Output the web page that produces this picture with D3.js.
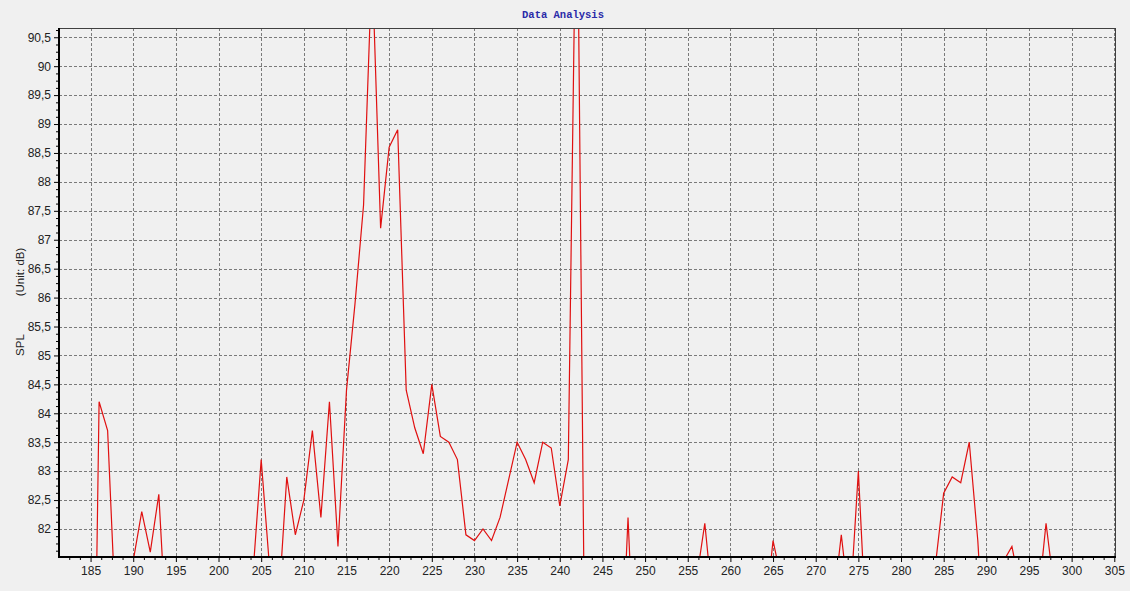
<!DOCTYPE html>
<html>
<head>
<meta charset="utf-8">
<script src="https://d3js.org/d3.v7.min.js"></script>
<style>
  body { margin:0; background:#f0f0f0; }
  svg { display:block; }
</style>
</head>
<body>
<svg id="chart" width="1130" height="591"></svg>
<script>
// frequency steps on the x axis
var freqs = d3.range(182, 305);
// SPL readings, one per step (values under the floor are cut off by the plot)
var spl = [
  79.0, 78.5, 77.0, 74.0, 84.2, 83.7, 80.3, 79.5,          // 182-189
  81.45, 82.3, 81.6, 82.6, 79.9, 79.5, 79.0, 78.5, 79.0, 79.5, // 190-199
  79.0, 78.5, 79.0, 79.5, 81.15, 83.2, 81.3, 80.6, 82.9, 81.9, // 200-209
  82.5, 83.7, 82.2, 84.2, 81.7, 84.4, 85.9, 87.6, 91.8, 87.2,  // 210-219
  88.6, 88.9, 84.4, 83.75, 83.3, 84.5, 83.6, 83.5, 83.2, 81.9, // 220-229
  81.8, 82.0, 81.8, 82.2, 82.85, 83.5, 83.2, 82.8, 83.5, 83.4, // 230-239
  82.4, 83.2, 94.1, 78.5, 79.0, 79.5, 79.0, 78.8, 82.2, 78.8,  // 240-249
  79.5, 80.0, 79.5, 79.0, 79.5, 80.0, 81.1, 82.1, 80.6, 80.0,  // 250-259
  79.5, 79.0, 79.5, 80.0, 80.4, 81.8, 81.1, 80.5, 80.0, 79.5,  // 260-269
  79.0, 79.5, 80.6, 81.9, 80.6, 83.0, 80.0, 79.5, 79.0, 79.5,  // 270-279
  79.0, 79.5, 80.0, 80.5, 81.33, 82.62, 82.9, 82.8, 83.5, 81.8, // 280-289
  79.3, 80.0, 81.44, 81.7, 80.95, 80.0, 80.65, 82.1, 80.9, 80.0, // 290-299
  79.5, 79.0, 79.5, 79.0, 79.5                                 // 300-304
];
var xTicks = d3.range(185, 306, 5);
var yTicks = d3.range(82, 90.51, 0.5);
var xDomain = [181.3, 305.2];
var yDomain = [81.516, 90.66];

var plot = {x:59, y:28, width:1057, height:529};

var svg = d3.select("#chart");

svg.append("rect")
  .attr("width",1130).attr("height",591)
  .style("fill","#f0f0f0");

var x = d3.scaleLinear()
  .domain(xDomain)
  .range([plot.x, plot.x+plot.width]);

var y = d3.scaleLinear()
  .domain(yDomain)
  .range([plot.y+plot.height, plot.y]);

var commaFmt = function(d){ return d3.format("~g")(d).replace(".",","); };

// grid
var grid = svg.append("g").attr("class","grid");
grid.selectAll("line.gx")
  .data(xTicks)
  .enter()
  .append("line")
  .attr("class","gx")
  .attr("x1",function(d){return Math.round(x(d))+0.5})
  .attr("x2",function(d){return Math.round(x(d))+0.5})
  .attr("y1",plot.y)
  .attr("y2",plot.y+plot.height)
  .style("stroke","#7a7a7a")
  .style("stroke-dasharray","3,2");
grid.selectAll("line.gy")
  .data(yTicks)
  .enter()
  .append("line")
  .attr("class","gy")
  .attr("y1",function(d){return Math.round(y(d))+0.5})
  .attr("y2",function(d){return Math.round(y(d))+0.5})
  .attr("x1",plot.x)
  .attr("x2",plot.x+plot.width)
  .style("stroke","#7a7a7a")
  .style("stroke-dasharray","3,2");

// data line, clipped to the plot box
svg.append("clipPath")
  .attr("id","clip")
  .append("rect")
  .attr("x",plot.x).attr("y",plot.y)
  .attr("width",plot.width).attr("height",plot.height);

var line = d3.line()
  .x(function(d,i){return x(freqs[i])})
  .y(function(d){return y(d)});

svg.append("path")
  .datum(spl)
  .attr("clip-path","url(#clip)")
  .attr("d",line)
  .style("fill","none")
  .style("stroke","#e01010")
  .style("stroke-width",1.2);

// frame: thin top/right, heavy left/bottom
svg.append("rect")
  .attr("x",plot.x+0.5).attr("y",plot.y+0.5)
  .attr("width",plot.width-1).attr("height",plot.height)
  .style("fill","none")
  .style("stroke","#404040")
  .style("stroke-width",1);

// axes
var xAxis = d3.axisBottom(x)
  .tickValues(xTicks)
  .tickSize(5)
  .tickPadding(4)
  .tickFormat(d3.format("d"));
var xMinor = d3.axisBottom(x)
  .tickValues(d3.range(182.5, 305.1, 1.25).filter(function(d){return d % 5 != 0}))
  .tickSize(3)
  .tickFormat("");

var yAxis = d3.axisLeft(y)
  .tickValues(yTicks)
  .tickSize(5)
  .tickPadding(3)
  .tickFormat(commaFmt);
var yMinor = d3.axisLeft(y)
  .tickValues(d3.range(81.625, 90.66, 0.125).filter(function(d){return Math.abs(d*2 - Math.round(d*2)) > 0.01}))
  .tickSize(3)
  .tickFormat("");

function styleAxis(g){
  g.select(".domain").remove();
  g.selectAll("line").style("stroke","#000");
  g.selectAll("text")
    .style("font-family","'Liberation Sans', Arial, sans-serif")
    .style("font-size","12px")
    .style("fill","#222");
}

svg.append("g")
  .attr("transform","translate(0,"+(plot.y+plot.height)+")")
  .call(xAxis).call(styleAxis);
svg.append("g")
  .attr("transform","translate(0,"+(plot.y+plot.height)+")")
  .call(xMinor).call(styleAxis);
svg.append("g")
  .attr("transform","translate("+plot.x+",0)")
  .call(yAxis).call(styleAxis);
svg.append("g")
  .attr("transform","translate("+plot.x+",0)")
  .call(yMinor).call(styleAxis);

// heavy axis lines
svg.append("line")
  .attr("x1",plot.x).attr("x2",plot.x)
  .attr("y1",plot.y).attr("y2",plot.y+plot.height+1)
  .style("stroke","#000").style("stroke-width",2);
svg.append("line")
  .attr("x1",plot.x-1).attr("x2",plot.x+plot.width)
  .attr("y1",plot.y+plot.height).attr("y2",plot.y+plot.height)
  .style("stroke","#000").style("stroke-width",2);

// title
svg.append("text")
  .attr("x",563)
  .attr("y",18)
  .style("text-anchor","middle")
  .style("font-family","'Liberation Mono', 'DejaVu Sans Mono', monospace")
  .style("font-size","10.5px")
  .style("font-weight","bold")
  .style("fill","#2a2aa8")
  .text("Data Analysis");

// y label
svg.append("text")
  .attr("transform","translate(24,345) rotate(-90)")
  .style("text-anchor","middle")
  .style("font-family","'Liberation Sans', Arial, sans-serif")
  .style("font-size","11.5px")
  .style("fill","#222")
  .text("SPL");
svg.append("text")
  .attr("transform","translate(24,272) rotate(-90)")
  .style("text-anchor","middle")
  .style("font-family","'Liberation Sans', Arial, sans-serif")
  .style("font-size","11.5px")
  .style("fill","#222")
  .text("(Unit: dB)");
</script>
</body>
</html>
